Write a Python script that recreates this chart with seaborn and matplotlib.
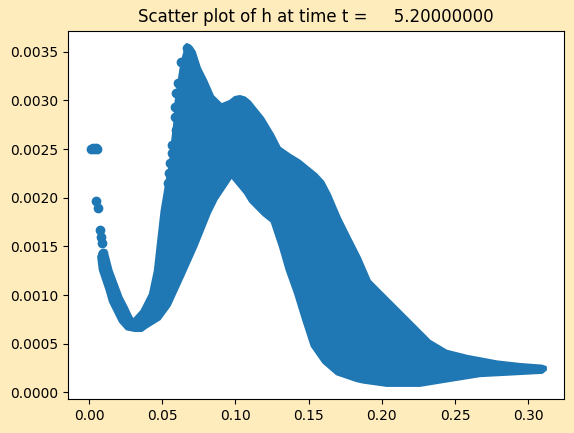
import matplotlib
matplotlib.use("Agg")
import matplotlib.pyplot as plt
import numpy as np
import pandas as pd
import seaborn as sns

# isolated h values near the left boundary
dots_x = [0.0015, 0.0025, 0.0035, 0.0045, 0.0053, 0.0050, 0.0062,
          0.0073, 0.0078, 0.0085, 0.0096]
dots_h = [0.00250, 0.00251, 0.00250, 0.00251, 0.00250, 0.001966, 0.001897,
          0.001668, 0.001599, 0.00153, 0.001435]

# scattered points on the left flank of the main peak
flank_x = [0.0666, 0.0631, 0.0608, 0.0597, 0.0586, 0.0586, 0.0597,
           0.0563, 0.0563, 0.0551, 0.0545, 0.0540]
flank_h = [0.003535, 0.003397, 0.003175, 0.003072, 0.002935, 0.002832, 0.002695,
           0.002541, 0.002456, 0.002353, 0.00225, 0.00215]

# envelope of the dense cloud of points
branch_outer_x = [0.0073, 0.0062, 0.0073, 0.0096, 0.0119, 0.0142, 0.0176, 0.0210, 0.0256, 0.0312]
branch_outer_h = [0.00144, 0.001393, 0.001257, 0.001154, 0.001051, 0.000931, 0.000828,
                  0.000725, 0.000647, 0.000630]

band_low_x = [0.0360, 0.0392, 0.0440, 0.0483, 0.0551, 0.0642, 0.0734, 0.0825, 0.0871,
              0.0973, 0.1064, 0.1099, 0.1189, 0.1246, 0.1303, 0.1349, 0.1406, 0.1462,
              0.1520, 0.1599, 0.1691, 0.1827, 0.1872, 0.2032, 0.2260, 0.2397, 0.2533,
              0.2670, 0.2897, 0.3095, 0.3120]
band_low_h = [0.00063, 0.000665, 0.00071, 0.00075, 0.00089, 0.00119, 0.00150, 0.00184,
              0.00198, 0.002210, 0.002045, 0.001959, 0.001822, 0.001753, 0.001496,
              0.001257, 0.001017, 0.000743, 0.000475, 0.000305, 0.000185, 0.000115,
              0.0001, 0.000066, 0.000066, 0.0001, 0.000133, 0.000166, 0.000184,
              0.000200, 0.00023]

band_high_x = [0.0301, 0.0358, 0.0415, 0.0449, 0.0472, 0.0495, 0.0529, 0.0551, 0.0563,
               0.0586, 0.0586, 0.0597, 0.0608, 0.0631, 0.0666, 0.0700, 0.0722, 0.0757,
               0.0802, 0.0847, 0.0905, 0.0961, 0.0995, 0.1030, 0.1065, 0.1098, 0.1189,
               0.1257, 0.1303, 0.1370, 0.1440, 0.1554, 0.1600, 0.1645, 0.1713, 0.1781,
               0.1850, 0.1918, 0.1964, 0.2101, 0.2214, 0.2328, 0.2442, 0.2579, 0.2784,
               0.2943, 0.3095, 0.3120]
band_high_h = [0.000745, 0.000840, 0.001010, 0.001250, 0.001560, 0.001865, 0.00217,
               0.00234, 0.00253, 0.00282, 0.00293, 0.00306, 0.00317, 0.00339, 0.00358,
               0.00355, 0.00350, 0.003335, 0.00320, 0.003045, 0.00296, 0.002995,
               0.003035, 0.003045, 0.003030, 0.002990, 0.00282, 0.00265, 0.002515,
               0.002445, 0.002380, 0.00224, 0.002165, 0.002035, 0.001795, 0.00159,
               0.001385, 0.001148, 0.001078, 0.000872, 0.000702, 0.00053, 0.000428,
               0.000376, 0.000318, 0.000291, 0.000274, 0.00026]

branch_inner_x = [0.0114, 0.0130, 0.0153, 0.0187, 0.0221, 0.0256, 0.0283, 0.0301]
branch_inner_h = [0.00146, 0.001393, 0.001257, 0.00112, 0.000982, 0.00088, 0.000794, 0.000745]

time_t = 5.2
blue = "#1f77b4"

fig = plt.figure(figsize=(5.74, 4.33), dpi=100, facecolor="#ffecbd")
ax = fig.add_axes([0.119, 0.0785, 0.8636, 0.8505])
ax.set_facecolor("white")

poly_x = branch_outer_x + band_low_x + band_high_x[::-1] + branch_inner_x[::-1]
poly_h = branch_outer_h + band_low_h + band_high_h[::-1] + branch_inner_h[::-1]
ax.fill(poly_x, poly_h, facecolor=blue, edgecolor=blue, linewidth=1.5,
        joinstyle="round")

pts = pd.DataFrame({"x": dots_x + flank_x, "h": dots_h + flank_h})
sns.scatterplot(data=pts, x="x", y="h", ax=ax, color=blue, s=36,
                edgecolor=blue, linewidth=1)

ax.set_xlim(-0.0142, 0.3244)
ax.set_ylim(-0.0000689, 0.003716)
ax.set_xticks(np.arange(0, 0.31, 0.05))
ax.set_yticks(np.arange(0, 0.0036, 0.0005))
ax.set_xticklabels([f"{v:.2f}" for v in np.arange(0, 0.31, 0.05)])
ax.set_yticklabels([f"{v:.4f}" for v in np.arange(0, 0.0036, 0.0005)])
ax.set_xlabel("")
ax.set_ylabel("")
ax.set_title(f"Scatter plot of h at time t = {time_t:14.8f}", fontsize=12)

fig.savefig("out.png", dpi=100, facecolor=fig.get_facecolor())
